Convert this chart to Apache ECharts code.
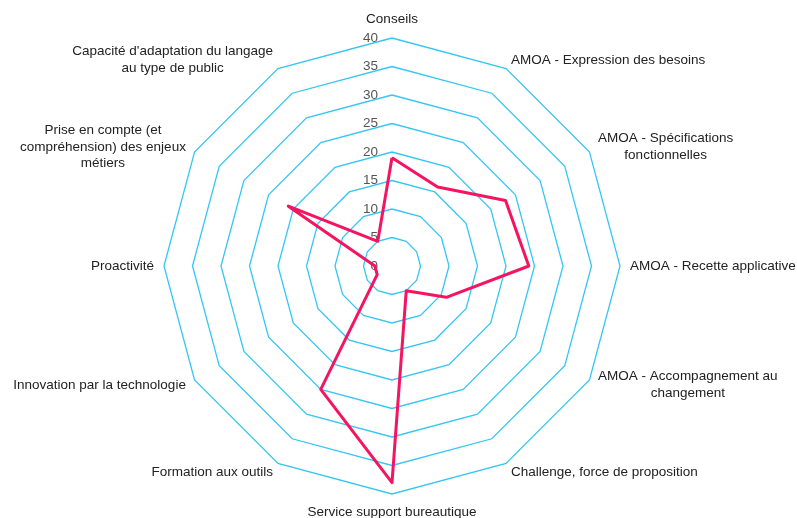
<!DOCTYPE html>
<html>
<head>
<meta charset="utf-8">
<script src="https://cdn.jsdelivr.net/npm/echarts@6/dist/echarts.min.js"></script>
<style>
  html, body { margin: 0; padding: 0; background: #fff; }
  #chart { width: 797px; height: 518px; }
</style>
</head>
<body>
<div id="chart"></div>
<script>
  // axes, clockwise from the top
  var criteres = [
    'Conseils',
    'AMOA - Expression des besoins',
    'AMOA - Spécifications\nfonctionnelles',
    'AMOA - Recette applicative',
    'AMOA - Accompagnement au\nchangement',
    'Challenge, force de proposition',
    'Service support bureautique',
    'Formation aux outils',
    'Innovation par la technologie',
    'Proactivité',
    'Prise en compte (et\ncompréhension) des enjeux\nmétiers',
    "Capacité d'adaptation du langage\nau type de public"
  ];
  var notes = [19, 16, 23, 24, 11, 5, 38, 25, 3, 3, 21, 5];
  var maxNote = 40;

  var myChart = echarts.init(document.getElementById('chart'));

  // echarts radar goes counter-clockwise, so feed the axes in reverse
  // (keeping Conseils on top)
  var order = [0];
  for (var k = criteres.length - 1; k >= 1; k--) order.push(k);

  var indicator = [];
  var values = [];
  for (var i = 0; i < order.length; i++) {
    var ind = { name: criteres[order[i]], min: 0, max: maxNote };
    if (i === 0) {
      // tick labels only on the first axis
      ind.axisLabel = {
        show: true,
        color: '#555',
        fontSize: 13.5,
        fontFamily: 'Liberation Sans',
        margin: 14
      };
    }
    indicator.push(ind);
    values.push(notes[order[i]]);
  }

  var option = {
    animation: false,
    radar: {
      center: [392, 266],
      radius: 228,
      startAngle: 90,
      shape: 'polygon',
      splitNumber: 8,
      nameGap: 10,
      indicator: indicator,
      axisName: {
        color: '#222',
        fontSize: 13.5,
        fontFamily: 'Liberation Sans',
        lineHeight: 16.5,
        formatter: function (name) {
          return name.split('\n').map(function (l) {
            return '{c|' + l + '}';
          }).join('\n');
        },
        rich: {
          c: {
            align: 'center',
            color: '#222',
            fontSize: 13.5,
            fontFamily: 'Liberation Sans',
            lineHeight: 16.5
          }
        }
      },
      axisLine: { show: false },
      axisTick: { show: false },
      axisLabel: { show: false },
      splitArea: { show: false },
      splitLine: {
        lineStyle: { color: '#36c6f4', width: 1.3 }
      }
    },
    series: [
      {
        type: 'radar',
        symbol: 'none',
        lineStyle: { color: '#f5145f', width: 3 },
        data: [
          { value: values, name: 'Notes' }
        ]
      }
    ]
  };

  myChart.setOption(option);
</script>
</body>
</html>
